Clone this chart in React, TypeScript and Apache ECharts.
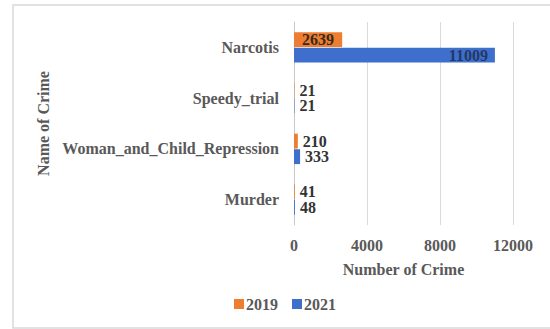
import React, { useEffect, useRef } from "react";
import * as echarts from "echarts";

const categories = ["Narcotis", "Speedy_trial", "Woman_and_Child_Repression", "Murder"];
const values2019 = [2639, 21, 210, 41];
const values2021 = [11009, 21, 333, 48];
const xTicks = { min: 0, max: 12000, interval: 4000 };

const FONT = '"Liberation Serif", "Times New Roman", serif';
const FS = 16;

export default function App() {
  const ref = useRef<HTMLDivElement>(null);
  useEffect(() => {
    if (!ref.current) return;
    const chart = echarts.init(ref.current, undefined, { renderer: "svg" });
    const labelBase = {
      show: true,
      fontFamily: FONT,
      fontWeight: "bold",
      fontSize: FS,
      color: "#333333",
    };
    chart.setOption({
      animation: false,
      backgroundColor: "#ffffff",
      graphic: [
        {
          type: "rect",
          shape: { x: 13, y: 5, width: 620, height: 323 },
          style: { fill: "none", stroke: "#d9d9d9", lineWidth: 1.5 },
          silent: true,
        },
      ],
      grid: { left: 294, right: 37, top: 22, bottom: 104, containLabel: false },
      legend: {
        data: ["2019", "2021"],
        top: 291,
        left: 229,
        itemWidth: 10,
        itemHeight: 10,
        itemGap: 14,
        icon: "rect",
        textStyle: { fontFamily: FONT, fontWeight: "bold", fontSize: FS, color: "#595959", padding: [0, 0, 0, -3] },
      },
      xAxis: {
        type: "value",
        min: xTicks.min,
        max: xTicks.max,
        interval: xTicks.interval,
        name: "Number of Crime",
        nameLocation: "middle",
        nameGap: 36,
        nameTextStyle: { fontFamily: FONT, fontWeight: "bold", fontSize: FS, color: "#595959" },
        axisLine: { show: false },
        axisTick: { show: false },
        axisLabel: {
          fontFamily: FONT,
          fontWeight: "bold",
          fontSize: FS,
          color: "#595959",
          margin: 12,
          formatter: (v: number) => String(v),
        },
        splitLine: { lineStyle: { color: "#d9d9d9", width: 1 } },
      },
      yAxis: {
        type: "category",
        data: categories,
        inverse: true,
        name: "Name of Crime",
        nameLocation: "middle",
        nameGap: 243,
        nameRotate: 90,
        nameTextStyle: { fontFamily: FONT, fontWeight: "bold", fontSize: FS, color: "#595959" },
        axisLine: { show: true, lineStyle: { color: "#c8c8c8", width: 1 } },
        axisTick: { show: false },
        axisLabel: { fontFamily: FONT, fontWeight: "bold", fontSize: FS, color: "#595959", margin: 15 },
      },
      series: [
        {
          name: "2019",
          type: "bar",
          data: values2019.map((v, i) =>
            i === 0 ? { value: v, label: { position: "inside", color: "#3a2a1a" } } : v
          ),
          barGap: "5%",
          barCategoryGap: "40%",
          itemStyle: { color: "#ed7d31" },
          label: { ...labelBase, position: "right", distance: 5 },
        },
        {
          name: "2021",
          type: "bar",
          data: values2021.map((v, i) =>
            i === 0 ? { value: v, label: { position: "insideRight", distance: 7, color: "#243866" } } : v
          ),
          barGap: "5%",
          barCategoryGap: "40%",
          itemStyle: { color: "#3f6fcc" },
          label: { ...labelBase, position: "right", distance: 5 },
        },
      ],
    });
    return () => chart.dispose();
  }, []);
  return (
    <div
      ref={ref}
      style={{ position: "absolute", left: 0, top: 0, width: 550, height: 329 }}
    />
  );
}
